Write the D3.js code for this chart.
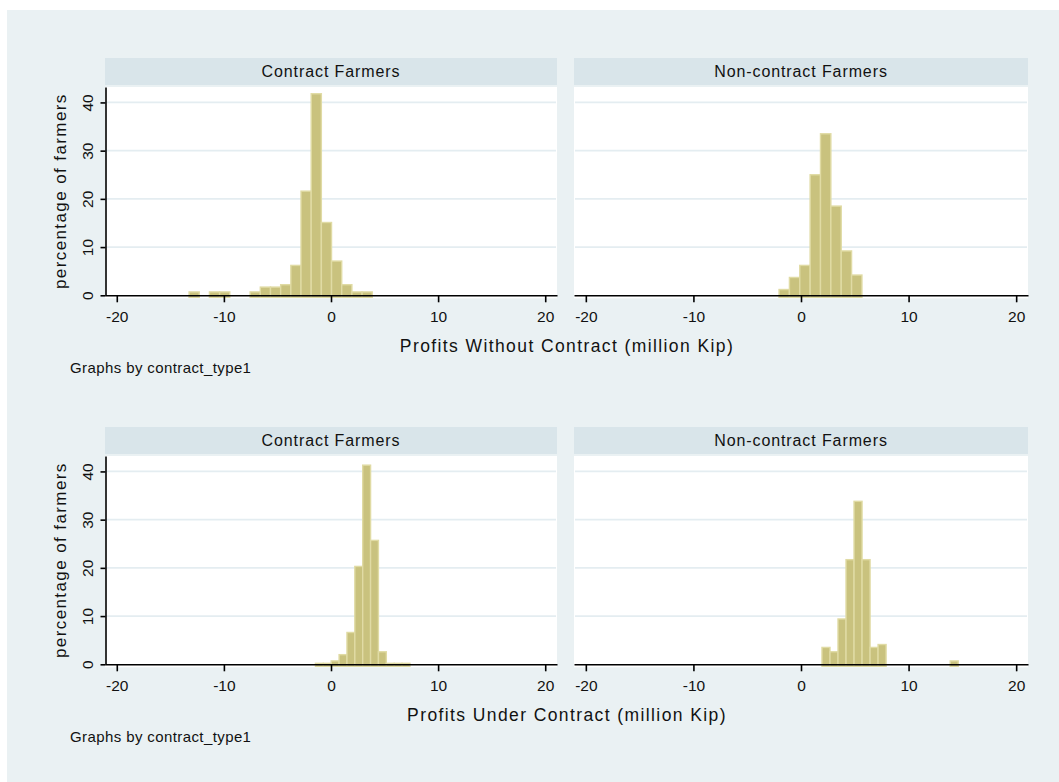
<!DOCTYPE html>
<html lang="en">
<head>
  <meta charset="UTF-8">
  <title>Profits histograms by contract type</title>
  <script src="https://d3js.org/d3.v7.min.js"></script>
  <style>
    body { margin: 0; background: #fff; font-family: Arial, 'Liberation Sans', sans-serif; }
    .axis path, .axis line { stroke: #000; stroke-width: 1.6; }
    .axis text { fill: #111; font-size: 15.5px; font-family: Arial, 'Liberation Sans', sans-serif; }
    .strip-label { font-size: 16px; fill: #111; letter-spacing: 0.9px; }
    .x-title { font-size: 17.5px; fill: #111; letter-spacing: 1.4px; }
    .y-title { font-size: 17px; fill: #111; letter-spacing: 1.4px; }
    .note { font-size: 15px; fill: #111; letter-spacing: 0.4px; }
  </style>
</head>
<body>
  <script>
    // tick labels and titles
    const xTicks = [-20, -10, 0, 10, 20];
    const yTicks = [0, 10, 20, 30, 40];
    const stripLabels = ["Contract Farmers", "Non-contract Farmers"];
    const xTitles = ["Profits Without Contract (million Kip)", "Profits Under Contract (million Kip)"];
    const noteText = "Graphs by contract_type1";
    const yTitle = "percentage of farmers";

    // histogram bins: first bin start, bin width, percent per bin
    // order: without contract (contract, non-contract), under contract (contract, non-contract)
    const binStarts = [-13.25, -2.04, -1.45, 1.95];
    const binWidths = [0.95, 0.963, 0.735, 0.745];
    const withoutContractFarmers = [0.7, 0, 0.7, 0.7, 0, 0, 0.7, 1.7, 1.7, 2.2, 6.2, 21.6, 41.8, 15.1, 7.1, 2.2, 0.7, 0.7];
    const withoutNonContract = [1.2, 3.7, 6.2, 25, 33.5, 18.5, 9.2, 4.2];
    const underContractFarmers = [0.2, 0.2, 0.7, 2.0, 6.6, 20.3, 41.3, 25.7, 2.6, 0.2, 0.2, 0.2];
    const underNonContract = [3.5, 2.6, 9.4, 21.7, 33.8, 21.7, 3.5, 4.1, 0, 0, 0, 0, 0, 0, 0, 0, 0.7];

    const panelValues = [withoutContractFarmers, withoutNonContract, underContractFarmers, underNonContract];

    const width = 1059, height = 782;
    const svg = d3.select("body").append("svg").attr("width", width).attr("height", height);

    svg.append("rect").attr("x", 7).attr("y", 10).attr("width", width - 7).attr("height", height - 10)
      .attr("fill", "#eaf1f3");

    const cols = [[105, 557], [574, 1028]];
    const rowShift = 369;
    const plotTop = 87, baseY = 295.3;
    const plainNum = d => String(d);   // hyphen minus like the original, not U+2212

    xTitles.forEach((title, r) => {
      const g = svg.append("g").attr("transform", `translate(0,${r * rowShift})`);
      const y = d3.scaleLinear().domain([0, 43.2]).range([baseY, plotTop]);

      cols.forEach(([x0, x1], c) => {
        const x = d3.scaleLinear().domain([-21.1, 21.1]).range([x0, x1]);
        const idx = r * 2 + c;
        const bins = panelValues[idx].map((v, i) => ({
          lo: binStarts[idx] + i * binWidths[idx],
          hi: binStarts[idx] + (i + 1) * binWidths[idx],
          v
        })).filter(d => d.v > 0);

        // strip
        g.append("rect").attr("x", x0).attr("y", 58).attr("width", x1 - x0).attr("height", 27)
          .attr("fill", "#d9e5ea");
        g.append("text").attr("class", "strip-label")
          .attr("x", (x0 + x1) / 2).attr("y", 77).attr("text-anchor", "middle")
          .text(stripLabels[c]);

        // plot region
        g.append("rect").attr("x", x0).attr("y", plotTop).attr("width", x1 - x0).attr("height", baseY - plotTop + 3)
          .attr("fill", "#fff");

        g.append("g").selectAll("line")
          .data(yTicks.filter(t => t > 0))
          .join("line")
          .attr("x1", x0 + 1).attr("x2", x1 - 1)
          .attr("y1", d => y(d)).attr("y2", d => y(d))
          .attr("stroke", "#e4edf1").attr("stroke-width", 1.8);

        g.append("g").selectAll("rect")
          .data(bins)
          .join("rect")
          .attr("x", d => x(d.lo))
          .attr("width", d => x(d.hi) - x(d.lo))
          .attr("y", d => y(d.v))
          .attr("height", d => y(0) - y(d.v) + 2)
          .attr("fill", "#c9c27e")
          .attr("stroke", "#e0dba4")
          .attr("stroke-width", 1.4);

        g.append("g").attr("class", "axis")
          .attr("transform", `translate(0,${baseY})`)
          .call(d3.axisBottom(x).tickValues(xTicks).tickFormat(plainNum).tickSize(7).tickSizeOuter(0).tickPadding(9));

        if (c === 0) {
          const yAxis = g.append("g").attr("class", "axis")
            .attr("transform", `translate(${x0 + 0.5},0)`)
            .call(d3.axisLeft(y).tickValues(yTicks).tickFormat(plainNum).tickSize(5).tickSizeOuter(0));
          yAxis.selectAll(".tick text")
            .attr("x", null).attr("dy", null)
            .attr("text-anchor", "middle")
            .attr("transform", "translate(-13,0) rotate(-90)");

          g.append("text").attr("class", "y-title")
            .attr("transform", `translate(66,${(plotTop + baseY) / 2}) rotate(-90)`)
            .attr("text-anchor", "middle")
            .text(yTitle);
        }
      });

      g.append("text").attr("class", "x-title")
        .attr("x", 567).attr("y", 352).attr("text-anchor", "middle")
        .text(title);
      g.append("text").attr("class", "note")
        .attr("x", 70).attr("y", 373)
        .text(noteText);
    });
  </script>
</body>
</html>
